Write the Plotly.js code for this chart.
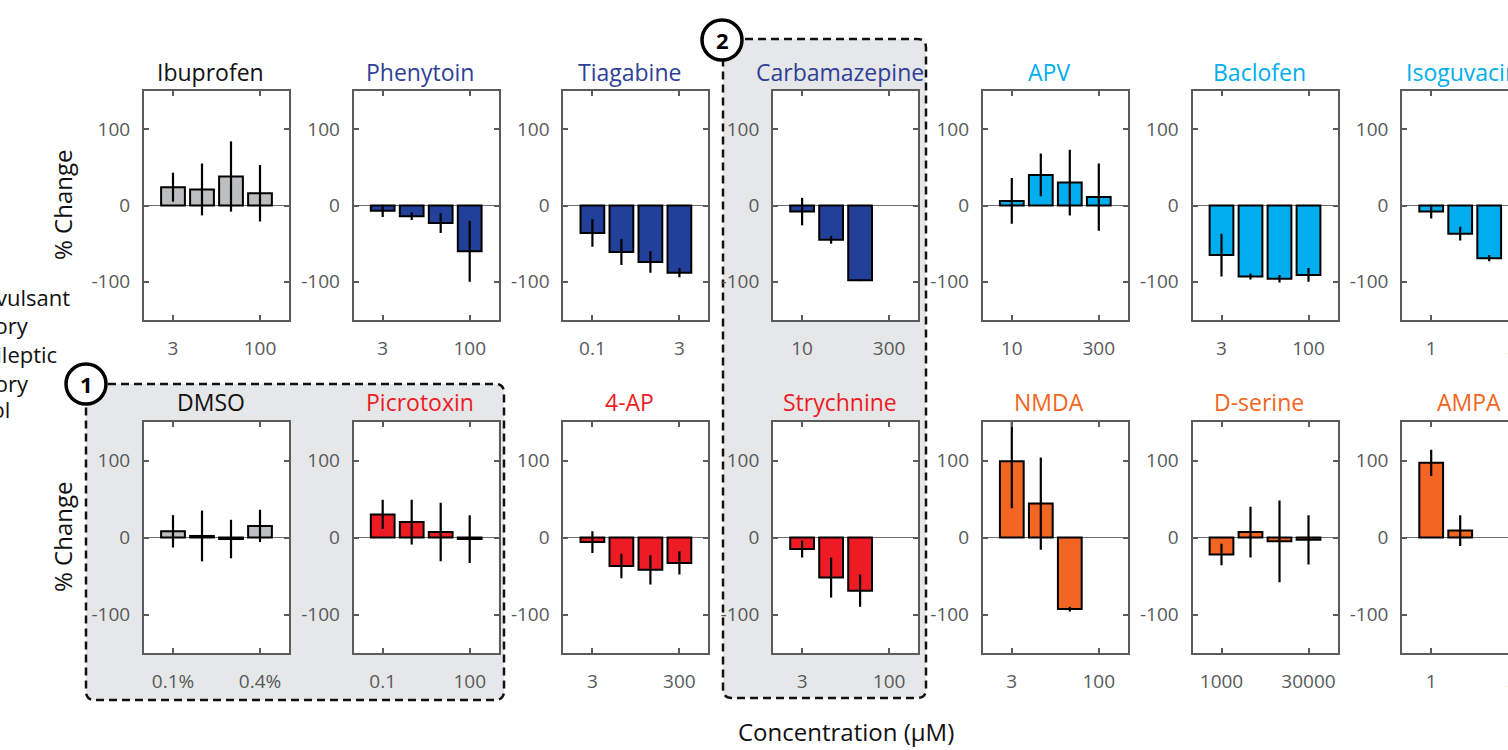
<!DOCTYPE html>
<html><head><meta charset="utf-8">
<script src="https://cdn.plot.ly/plotly-3.0.1.min.js"></script>
<style>html,body{margin:0;padding:0;overflow:hidden;background:#fff;width:1508px;height:750px}</style>
</head><body><div id="chart" style="width:1560px;height:750px"></div>
<script>
// ---- data ----
const drugs = ['Ibuprofen','Phenytoin','Tiagabine','Carbamazepine','APV','Baclofen','Isoguvacine',
               'DMSO','Picrotoxin','4-AP','Strychnine','NMDA','D-serine','AMPA'];
const drugClass = ['Control','Anticonvulsant','Anticonvulsant','Anticonvulsant','Inhibitory','Inhibitory','Inhibitory',
                   'Control','Proepileptic','Proepileptic','Proepileptic','Excitatory','Excitatory','Excitatory'];
const tickLow  = ['3','3','0.1','10','10','3','1','0.1%','0.1','3','3','3','1000','1'];
const tickHigh = ['100','100','3','300','300','100','30','0.4%','100','300','100','100','30000','30'];
const legendLabels = ['Anticonvulsant','Inhibitory','Proepileptic','Excitatory','Control'];

const ibuprofen = [24, 21, 38, 16],      ibuprofenErr = [19, 34, 46, 37];
const phenytoin = [-7, -14, -23, -60],   phenytoinErr = [8, 5, 13, 40];
const tiagabine = [-36, -61, -74, -88],  tiagabineErr = [18, 17, 14, 6];
const carbamazepine = [-8, -45, -98],    carbamazepineErr = [18, 5, 1];
const apv = [6, 40, 30, 11],             apvErr = [30, 28, 43, 44];
const baclofen = [-65, -93, -96, -91],   baclofenErr = [28, 4, 5, 9];
const isoguvacine = [-8, -37, -69],      isoguvacineErr = [9, 9, 4];
const dmso = [8, 2, -2, 15],             dmsoErr = [21, 33, 25, 21];
const picrotoxin = [30, 20, 7, -2],      picrotoxinErr = [19, 29, 38, 31];
const fourAP = [-6, -37, -42, -33],      fourAPErr = [14, 16, 19, 15];
const strychnine = [-15, -52, -69],      strychnineErr = [11, 26, 21];
const nmda = [99, 44, -93],              nmdaErr = [61, 60, 3];
const dserine = [-22, 7, -5, -3],        dserineErr = [14, 33, 53, 32];
const ampa = [97, 9],                    ampaErr = [17, 20];

const means = [ibuprofen, phenytoin, tiagabine, carbamazepine, apv, baclofen, isoguvacine,
               dmso, picrotoxin, fourAP, strychnine, nmda, dserine, ampa];
const errs = [ibuprofenErr, phenytoinErr, tiagabineErr, carbamazepineErr, apvErr, baclofenErr, isoguvacineErr,
              dmsoErr, picrotoxinErr, fourAPErr, strychnineErr, nmdaErr, dserineErr, ampaErr];

// ---- styling ----
const barColor = {Control:'#bcbec0', Anticonvulsant:'#223f99', Inhibitory:'#00aeef', Proepileptic:'#ed1c24', Excitatory:'#f26522'};
const titleColor = {Control:'#111111', Anticonvulsant:'#2e3f98', Inhibitory:'#00aeef', Proepileptic:'#ed1c24', Excitatory:'#f26522'};
const FONT = 'Open Sans, sans-serif';
const W = 1560, H = 750;
const px = x => x / W, py = y => 1 - y / H;
const panelW = 145, leftStart = 144, step = 209.7;
const rowTop = [91, 422], rowBot = [320, 653], titleY = [72, 402];

const traces = [], annotations = [], shapes = [];
const layout = {
  width: W, height: H, margin: {l:0, r:0, t:0, b:0},
  paper_bgcolor: '#ffffff', plot_bgcolor: '#ffffff', showlegend: false,
  font: {family: FONT, color: '#58595b'}, bargap: 0.2
};

function rr(x0, y0, x1, y1, r) {
  const P = (x, y) => px(x) + ',' + py(y);
  return 'M' + P(x0 + r, y0) + ' L' + P(x1 - r, y0) + ' Q' + P(x1, y0) + ' ' + P(x1, y0 + r) +
         ' L' + P(x1, y1 - r) + ' Q' + P(x1, y1) + ' ' + P(x1 - r, y1) +
         ' L' + P(x0 + r, y1) + ' Q' + P(x0, y1) + ' ' + P(x0, y1 - r) +
         ' L' + P(x0, y0 + r) + ' Q' + P(x0, y0) + ' ' + P(x0 + r, y0) + ' Z';
}
// highlight boxes
shapes.push({type:'path', xref:'paper', yref:'paper', layer:'below', path: rr(86, 384, 504, 700, 9),
             fillcolor:'#e6e7e8', line:{color:'#111', width:2.5, dash:'8px,5px'}});
shapes.push({type:'path', xref:'paper', yref:'paper', layer:'below', path: rr(723, 39, 926, 698, 9),
             fillcolor:'#e6e7e8', line:{color:'#111', width:2.5, dash:'8px,5px'}});

drugs.forEach((name, i) => {
  const row = i < 7 ? 0 : 1, col = i % 7;
  const id = i === 0 ? '' : String(i + 1);
  const left = leftStart + col * step;
  const cls = drugClass[i];
  traces.push({
    type: 'bar', x: means[i].map((_, k) => k + 1), y: means[i], width: 0.82,
    xaxis: 'x' + id, yaxis: 'y' + id,
    marker: {color: barColor[cls], line: {color: '#000', width: 2}},
    error_y: {type: 'data', array: errs[i], visible: true, color: '#000', thickness: 2.2, width: 0},
    hoverinfo: 'skip'
  });
  layout['xaxis' + id] = {
    domain: [px(left), px(left + panelW)], anchor: 'y' + id, range: [0, 5],
    tickvals: [1, 4], ticktext: [tickLow[i], tickHigh[i]],
    ticks: 'inside', ticklen: 5, tickwidth: 2, tickcolor: '#5b5b5b',
    showline: true, mirror: 'ticks', linecolor: '#5b5b5b', linewidth: 2,
    showgrid: false, zeroline: false, ticklabelstandoff: 10,
    tickfont: {family: FONT, size: 19, color: '#58595b'}
  };
  layout['yaxis' + id] = {
    domain: [py(rowBot[row]), py(rowTop[row])], anchor: 'x' + id, range: [-150, 150],
    tickvals: [-100, 0, 100], ticktext: ['-100', '0', '100'],
    ticks: 'inside', ticklen: 5, tickwidth: 2, tickcolor: '#5b5b5b',
    showline: true, mirror: 'ticks', linecolor: '#5b5b5b', linewidth: 2,
    showgrid: false, zeroline: true, zerolinecolor: '#6d6e71', zerolinewidth: 1.8,
    ticklabelstandoff: 8,
    tickfont: {family: FONT, size: 19, color: '#58595b'}
  };
  shapes.push({type:'rect', xref:'x' + id + ' domain', yref:'y' + id + ' domain', layer:'below',
               x0:0, x1:1, y0:0, y1:1, fillcolor:'#ffffff', line:{width:0}});
  annotations.push({xref:'paper', yref:'paper', x: px(left + panelW / 2 - 6), y: py(titleY[row]),
    xanchor:'center', yanchor:'middle', showarrow:false, text: name,
    font:{family: FONT, size: 23, color: titleColor[cls]}});
});

// y axis titles
[205, 537].forEach(yc => annotations.push({xref:'paper', yref:'paper', x: px(62), y: py(yc),
  xanchor:'center', yanchor:'middle', textangle:-90, showarrow:false, text:'% Change',
  font:{family: FONT, size: 24, color:'#111'}}));
// x label
annotations.push({xref:'paper', yref:'paper', x: px(846), y: py(731), xanchor:'center', yanchor:'middle',
  showarrow:false, text:'Concentration (μM)', font:{family: FONT, size: 24, color:'#111'}});
// legend text (cut at left edge)
const legEnds = [72, 31, 59, 31, 12], legY = [297, 325, 354, 383, 409];
legendLabels.forEach((t, k) => annotations.push({xref:'paper', yref:'paper', x: px(legEnds[k]), y: py(legY[k]),
  xanchor:'right', yanchor:'middle', showarrow:false, text: t, font:{family: FONT, size: 22, color:'#111'}}));
// numbered circles
[[86, 384, '1'], [722, 40, '2']].forEach(([cx, cy, t]) => {
  const r = 20;
  shapes.push({type:'circle', xref:'paper', yref:'paper', layer:'above',
    x0: px(cx - r), x1: px(cx + r), y0: py(cy + r), y1: py(cy - r),
    fillcolor:'#ffffff', line:{color:'#000', width:3.5}});
  annotations.push({xref:'paper', yref:'paper', x: px(cx), y: py(cy), xanchor:'center', yanchor:'middle',
    showarrow:false, text:'<b>' + t + '</b>', font:{family: FONT, size: 22, color:'#000'}});
});

layout.shapes = shapes;
layout.annotations = annotations;
Plotly.newPlot('chart', traces, layout, {staticPlot: true});
</script></body></html>
